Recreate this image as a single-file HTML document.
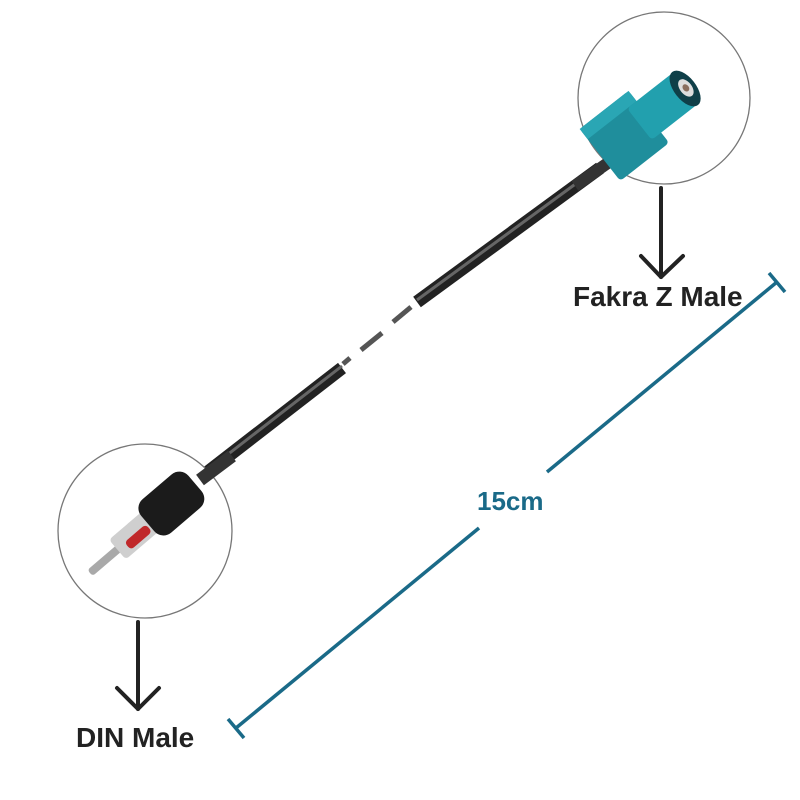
<!DOCTYPE html>
<html><head><style>body{margin:0;background:#fff}svg{display:block}</style></head>
<body>
<svg width="800" height="800" viewBox="0 0 800 800" xmlns="http://www.w3.org/2000/svg">
<rect width="800" height="800" fill="#fff"/>
<g stroke-linecap="butt">
<line x1="600" y1="168" x2="417" y2="302" stroke="#222" stroke-width="13"/>
<line x1="600" y1="166" x2="417" y2="300" stroke="#666" stroke-width="3"/>
<line x1="411" y1="307" x2="393" y2="322" stroke="#555" stroke-width="5"/>
<line x1="382" y1="333" x2="361" y2="350" stroke="#555" stroke-width="5"/>
<line x1="350" y1="358" x2="343" y2="364" stroke="#555" stroke-width="5"/>
<line x1="342" y1="368" x2="200" y2="478" stroke="#222" stroke-width="13"/>
<line x1="342" y1="366" x2="200" y2="476" stroke="#666" stroke-width="3"/>
</g>
<circle cx="664" cy="98" r="86" fill="#fff" stroke="#777" stroke-width="1.3"/>
<circle cx="145" cy="531" r="87" fill="#fff" stroke="#777" stroke-width="1.3"/>
<line x1="612" y1="160" x2="575" y2="186" stroke="#333" stroke-width="12"/>
<line x1="232" y1="456" x2="200" y2="480" stroke="#333" stroke-width="13"/>
<g transform="translate(640,125) rotate(-38)">
<rect x="-50" y="-34" width="62" height="66" rx="4" fill="#1f8e9c"/>
<rect x="-50" y="-34" width="62" height="13" fill="#2aa6b4"/>
<rect x="0" y="-21" width="58" height="40" rx="4" fill="#22a0ae"/>
<ellipse cx="58" cy="-1" rx="11" ry="21" fill="#0f3f48"/>
<ellipse cx="59" cy="-1" rx="6" ry="10" fill="#ddd"/>
<ellipse cx="59" cy="-1" rx="3" ry="4" fill="#8a6e5e"/>
</g>
<g transform="translate(90,573) rotate(-40.5)">
<rect x="0" y="-4" width="42" height="8" rx="3" fill="#a9a9a9"/>
<rect x="36" y="-13" width="44" height="26" rx="4" fill="#cfcfcf"/>
<rect x="46" y="-1" width="28" height="10" rx="4" fill="#c0282a"/>
<rect x="76" y="-22" width="62" height="44" rx="12" fill="#1b1b1b"/>
</g>
<g stroke="#222" stroke-width="4" fill="none" stroke-linecap="round" stroke-linejoin="round">
<line x1="661" y1="188" x2="661" y2="277"/>
<polyline points="641,256 661,277 683,256"/>
<line x1="138" y1="622" x2="138" y2="709"/>
<polyline points="117,688 138,709 159,688"/>
</g>
<text x="573" y="306" font-family="Liberation Sans, sans-serif" font-weight="bold" font-size="28" fill="#222">Fakra Z Male</text>
<text x="76" y="747" font-family="Liberation Sans, sans-serif" font-weight="bold" font-size="28" fill="#222">DIN Male</text>
<g stroke="#1a6a88" stroke-width="3.5">
<line x1="236" y1="728" x2="479" y2="528"/>
<line x1="547" y1="472" x2="777" y2="282"/>
<line x1="228" y1="719" x2="244" y2="738"/>
<line x1="769" y1="273" x2="785" y2="292"/>
</g>
<text x="477" y="510" font-family="Liberation Sans, sans-serif" font-weight="bold" font-size="26" fill="#1a6a88">15cm</text>
</svg>
</body></html>
